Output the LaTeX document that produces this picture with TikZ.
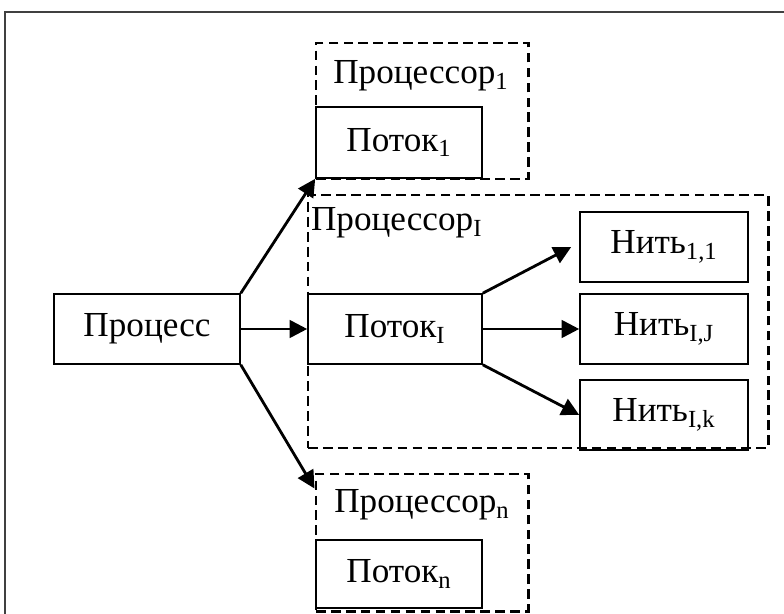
\documentclass[tikz,border=0pt]{standalone}
\usepackage{fontspec}
\setmainfont{Liberation Serif}
\usetikzlibrary{arrows.meta}
\begin{document}
\begin{tikzpicture}[
    >={Triangle[length=10pt,width=10pt]},
    box/.style={draw,line width=0.9pt,minimum height=1.4cm,inner sep=0pt},
    cpu/.style={draw,line width=1.7pt,dash pattern=on 5.5pt off 3pt,inner sep=0pt},
    link/.style={->,line width=1.6pt}]
    \fontsize{20}{24}\selectfont
	\useasboundingbox (0,0) rectangle (15.68,12.26);
	\clip (0,0) rectangle (15.68,12.26);
	\draw [black!75,line width=1.5pt] (0.1,-1) -- (0.1,12.02) -- (17,12.02);
	\node[cpu,minimum width=4.24cm,minimum height=2.72cm] (cpu1) at (8.44,10.04) {};
	\node[cpu,minimum width=9.2cm,minimum height=5.06cm] (cpuI) at (10.76,5.83) {};
	\node[cpu,minimum width=4.24cm,minimum height=2.74cm] (cpun) at (8.44,1.41) {};
	\node (lab1) at (8.42,10.74) {Процессор\textsubscript{1}};
	\node [anchor=west,inner sep=1pt] (labI) at (6.18,7.80) {Процессор\textsubscript{I}};
	\node (labn) at (8.44,2.16) {Процессор\textsubscript{n}};
	\node[box,minimum width=3.72cm] (proc) at (2.94,5.68) {Процесс};
	\node[box,minimum width=3.48cm] (thrI) at (7.90,5.68) {Поток\textsubscript{I}};
	\node[box,minimum width=3.32cm,minimum height=1.42cm] (thr1) at (7.98,9.41) {Поток\textsubscript{1}};
	\node[box,minimum width=3.32cm,minimum height=1.36cm] (thrn) at (7.98,0.78) {Поток\textsubscript{n}};
	\node[box,minimum width=3.36cm] (f11) at (13.28,7.32) {Нить\textsubscript{1,1}};
	\node[box,minimum width=3.36cm] (fIJ) at (13.28,5.68) {Нить\textsubscript{I,J}};
	\node[box,minimum width=3.36cm] (fIk) at (13.28,3.96) {Нить\textsubscript{I,k}};
	\draw [link] (proc.north east) -- (thr1.south west);
	\draw [link] (proc.east) -- (thrI.west);
	\draw [link] (proc.south east) -- ([yshift=-0.32cm]cpun.north west);
	\draw [link] (thrI.north east) -- ([xshift=-0.16cm]f11.west);
	\draw [link] (thrI.east) -- (fIJ.west);
	\draw [link] (thrI.south east) -- (fIk.west);
\end{tikzpicture}
\end{document}
